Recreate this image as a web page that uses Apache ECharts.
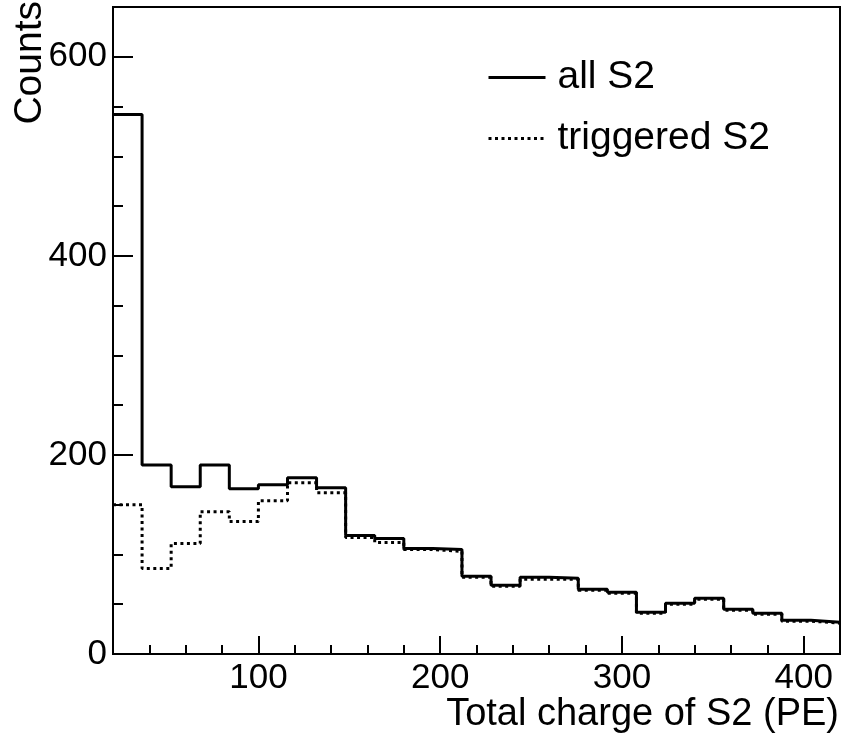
<!DOCTYPE html>
<html>
<head>
<meta charset="utf-8">
<script src="https://cdn.jsdelivr.net/npm/echarts@6/dist/echarts.min.js"></script>
<style>
  html, body { margin: 0; padding: 0; background: #fff; }
  #chart { width: 842px; height: 733px; }
</style>
</head>
<body>
<div id="chart"></div>
<script>
// Bin lower edges (PE), bin width 16, last bin ends at 420
const binLow = [20, 36, 52, 68, 84, 100, 116, 132, 148, 164, 180, 196, 212, 228, 244, 260, 276, 292, 308, 324, 340, 356, 372, 388, 404];
const binEnd = 420;
// Counts per bin
const allS2 = [542, 190, 168, 190, 166, 170, 177, 167, 119, 116, 106, 105, 78, 69, 77, 76, 65, 62, 42, 51, 56, 45, 41, 34, 32];
const triggeredS2 = [150, 86, 111, 143, 133, 154, 172, 162, 117, 112, 105, 103, 77, 68, 75, 75, 64, 61, 41, 50, 55, 44, 40, 33, 31];
const seriesNames = ['all S2', 'triggered S2'];
const xTitle = 'Total charge of S2 (PE)';
const yTitle = 'Counts';

function stepData(vals) {
  const d = binLow.map((x, i) => [x, vals[i]]);
  d.push([binEnd, vals[vals.length - 1]]);
  return d;
}

const FONT = 'Liberation Sans, Arial, Helvetica, sans-serif';
const chart = echarts.init(document.getElementById('chart'), null, { renderer: 'canvas' });
chart.setOption({
  animation: false,
  backgroundColor: '#fff',
  grid: {
    left: 113, right: 2, top: 7, bottom: 79,
    containLabel: false, outerBoundsMode: 'none',
    show: true, borderColor: '#000', borderWidth: 2, backgroundColor: 'transparent'
  },
  legend: {
    show: true,
    orient: 'vertical',
    left: 487, top: 58,
    padding: 0,
    itemWidth: 57, itemHeight: 14,
    itemGap: 22,
    data: seriesNames,
    itemStyle: { opacity: 0 },
    lineStyle: { width: 3 },
    textStyle: { fontFamily: FONT, fontSize: 39, color: '#000', lineHeight: 38, padding: [0, 0, 0, 7] }
  },
  xAxis: {
    type: 'value', min: 20, max: 420,
    axisLine: { show: true, lineStyle: { color: '#000', width: 2 } },
    axisTick: { show: true, inside: true, length: 18, lineStyle: { color: '#000', width: 2 } },
    minorTick: { show: true, splitNumber: 5, length: 9, lineStyle: { color: '#000', width: 2 } },
    axisLabel: { fontFamily: FONT, fontSize: 35, color: '#000', margin: 7, showMinLabel: false, showMaxLabel: false },
    splitLine: { show: false }, minorSplitLine: { show: false }
  },
  yAxis: {
    type: 'value', min: 0, max: 650, interval: 200,
    axisLine: { show: true, lineStyle: { color: '#000', width: 2 } },
    axisTick: { show: true, inside: true, length: 20, lineStyle: { color: '#000', width: 2 } },
    minorTick: { show: true, splitNumber: 4, length: 10, lineStyle: { color: '#000', width: 2 } },
    axisLabel: { fontFamily: FONT, fontSize: 35, color: '#000', margin: 6, showMaxLabel: false },
    splitLine: { show: false }, minorSplitLine: { show: false }
  },
  graphic: [
    {
      type: 'text', x: 30, y: 1, rotation: Math.PI / 2,
      style: { text: yTitle, fontFamily: FONT, fontSize: 39, fill: '#000', align: 'right', verticalAlign: 'middle' }
    },
    {
      type: 'text', x: 839, y: 715,
      style: { text: xTitle, fontFamily: FONT, fontSize: 38, fill: '#000', align: 'right', verticalAlign: 'middle' }
    }
  ],
  series: [
    {
      name: seriesNames[1], type: 'line', step: 'end', symbol: 'none', showSymbol: false,
      data: stepData(triggeredS2),
      lineStyle: { color: '#000', width: 3, type: [3, 3.5] },
      itemStyle: { color: '#000' }, z: 2
    },
    {
      name: seriesNames[0], type: 'line', step: 'end', symbol: 'none', showSymbol: false,
      data: stepData(allS2),
      lineStyle: { color: '#000', width: 3, type: 'solid' },
      itemStyle: { color: '#000' }, z: 3
    }
  ]
});
</script>
</body>
</html>
